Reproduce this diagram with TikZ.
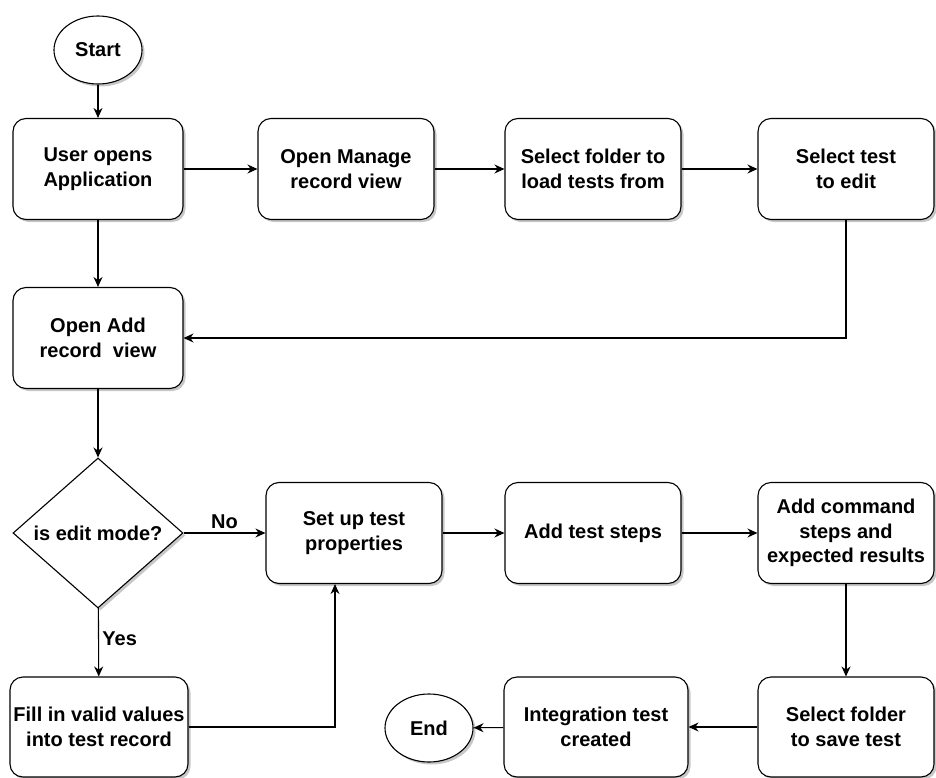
\documentclass[tikz,border=0pt]{standalone}
\usepackage{fontspec}
\setmainfont{Liberation Sans}
\usetikzlibrary{arrows.meta,shapes.geometric,shadows}
\tikzset{
  shade/.style={drop shadow={shadow xshift=2.5pt,shadow yshift=-2.5pt,fill=black,opacity=0.22}},
  txt/.style={font=\bfseries\fontsize{20}{24.5}\selectfont},
  proc/.style={txt,draw,line width=1.1pt,rounded corners=13pt,fill=white,shade,
    minimum width=176pt,minimum height=101pt,align=center,inner sep=2pt},
  term/.style={txt,draw,line width=1.1pt,ellipse,fill=white,shade,
    minimum width=88pt,minimum height=68pt,inner sep=0pt},
  decide/.style={txt,draw,line width=1.1pt,diamond,fill=white,shade,aspect=1.13,
    minimum width=170pt,minimum height=150pt,inner sep=0pt},
  arr/.style={line width=1.1pt,-{Stealth[length=10pt,width=9pt]}}
}
\begin{document}
\begin{tikzpicture}[x=1pt,y=-1pt]
\useasboundingbox (0,0) rectangle (936,778);

\node[term] (start) at (98,50) {Start};
\node[proc,minimum width=170pt] (app) at (98,169) {User opens\\Application};
\node[proc] (manage) at (346,169) {Open Manage\\record view};
\node[proc] (loadf) at (593,169) {Select folder to\\load tests from};
\node[proc] (seltest) at (846,169) {Select test\\to edit};
\node[proc,minimum width=170pt] (addrec) at (98,338) {Open Add\\record\ \ view};
\node[decide] (edit) at (98,533) {is edit mode?};
\node[proc] (setup) at (354,533) {Set up test\\properties};
\node[proc] (steps) at (593,533) {Add test steps};
\node[proc] (cmd) at (846,533) {Add command\\steps and\\expected results};
\node[proc,minimum width=178pt,minimum height=100pt] (fill) at (99,727) {Fill in valid values\\into test record};
\node[term] (endn) at (429,728) {End};
\node[proc,minimum width=184pt,minimum height=100pt] (integ) at (596,727) {Integration test\\created};
\node[proc,minimum height=100pt] (savef) at (846,727) {Select folder\\to save test};

\draw[arr] (start) -- (app);
\draw[arr] (app) -- (manage);
\draw[arr] (manage) -- (loadf);
\draw[arr] (loadf) -- (seltest);
\draw[arr] (seltest.south) |- (addrec.east);
\draw[arr] (app) -- (addrec);
\draw[arr] (addrec) -- (edit);
\draw[arr] (edit) -- node[txt,above] {No} (setup);
\draw[arr] (edit) -- node[txt,right,pos=0.45] {Yes} (fill);
\draw[arr] (fill.east) -| ([xshift=-19pt]setup.south);
\draw[arr] (setup) -- (steps);
\draw[arr] (steps) -- (cmd);
\draw[arr] (cmd) -- (savef);
\draw[arr] (savef) -- (integ);
\draw[arr] (integ) -- (endn);
\end{tikzpicture}
\end{document}
